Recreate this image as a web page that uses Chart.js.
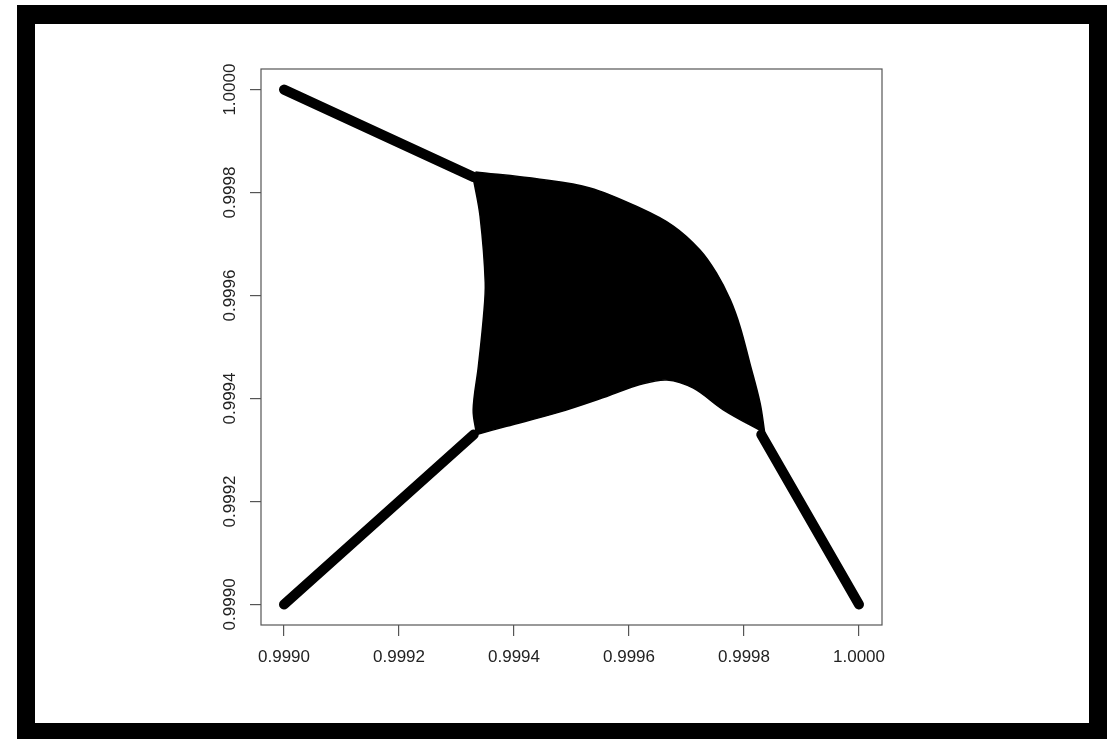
<!DOCTYPE html>
<html>
<head>
<meta charset="utf-8">
<script src="https://cdn.jsdelivr.net/npm/chart.js@4/dist/chart.umd.min.js"></script>
<style>
  html, body { margin: 0; padding: 0; background: #ffffff; width: 1110px; height: 739px; overflow: hidden; }
  #frame {
    position: absolute; left: 17px; top: 5px; width: 1090px; height: 734px;
    box-sizing: border-box; background: #ffffff;
    border-style: solid; border-color: #000000;
    border-width: 19px 18px 16px 18px;
  }
  #wrap { position: absolute; left: 0; top: 0; width: 1110px; height: 739px; }
</style>
</head>
<body>
<div id="frame"></div>
<div id="wrap"><canvas id="c" width="1110" height="739"></canvas></div>
<script>
// ---- data ----
const upperBranchX = [0.99900, 0.99933];
const upperBranchY = [1.00000, 0.99983];
const lowerBranchX = [0.99900, 0.99933];
const lowerBranchY = [0.99900, 0.99933];
const rightBranchX = [0.99983, 1.00000];
const rightBranchY = [0.99933, 0.99900];

// outline of the dense (chaotic) black region, clockwise from the upper-left corner
// (corner points are repeated so they stay sharp when the outline is smoothed)
const regionX = [0.999333, 0.999333, 0.999445, 0.999532, 0.999619, 0.999677, 0.999723, 0.999752, 0.999776,
                 0.999793, 0.999810, 0.999828, 0.999836, 0.999836,
                 0.999764, 0.999712, 0.999666, 0.999619, 0.999561, 0.999474, 0.999387, 0.999335, 0.999335,
                 0.999329, 0.999338, 0.999347, 0.999350, 0.999341, 0.999329];
const regionY = [0.999840, 0.999840, 0.999826, 0.999809, 0.999770, 0.999735, 0.999689, 0.999644, 0.999592,
                 0.999540, 0.999469, 0.999391, 0.999333, 0.999333,
                 0.999378, 0.999420, 0.999436, 0.999427, 0.999404, 0.999372, 0.999346, 0.999330, 0.999330,
                 0.999378, 0.999462, 0.999560, 0.999625, 0.999754, 0.999829];

const xTickValues = [0.9990, 0.9992, 0.9994, 0.9996, 0.9998, 1.0000];
const xTickLabels = ['0.9990', '0.9992', '0.9994', '0.9996', '0.9998', '1.0000'];
const yTickValues = [0.9990, 0.9992, 0.9994, 0.9996, 0.9998, 1.0000];
const yTickLabels = ['0.9990', '0.9992', '0.9994', '0.9996', '0.9998', '1.0000'];
const axisMin = 0.99896;
const axisMax = 1.00004;

const toPts = (xs, ys) => xs.map((x, i) => ({ x: x, y: ys[i] }));

const lineStyle = {
  showLine: true, pointRadius: 0, pointHoverRadius: 0,
  borderColor: '#000000', borderWidth: 10,
  borderCapStyle: 'round', borderJoinStyle: 'round',
  fill: false, tension: 0, clip: false
};

const boxPlugin = {
  id: 'box',
  afterDraw(chart) {
    const a = chart.chartArea, ctx = chart.ctx;
    ctx.save();
    ctx.strokeStyle = '#555555';
    ctx.lineWidth = 1.2;
    ctx.strokeRect(a.left, a.top, a.right - a.left, a.bottom - a.top);
    ctx.restore();
  }
};

const tickFont = { family: '"Liberation Sans", Arial, sans-serif', size: 17 };

new Chart(document.getElementById('c'), {
  type: 'scatter',
  data: {
    datasets: [
      Object.assign({}, lineStyle, {
        data: toPts(regionX, regionY), borderWidth: 1.5, fill: 'shape',
        backgroundColor: '#000000', borderCapStyle: 'butt', tension: 0.35
      }),
      Object.assign({}, lineStyle, { data: toPts(upperBranchX, upperBranchY) }),
      Object.assign({}, lineStyle, { data: toPts(lowerBranchX, lowerBranchY) }),
      Object.assign({}, lineStyle, { data: toPts(rightBranchX, rightBranchY) })
    ]
  },
  options: {
    responsive: false, animation: false, devicePixelRatio: 1,
    layout: { padding: { left: 191, right: 228, top: 69, bottom: 54 } },
    plugins: { legend: { display: false }, tooltip: { enabled: false } },
    scales: {
      x: {
        type: 'linear', min: axisMin, max: axisMax,
        afterBuildTicks: (s) => { s.ticks = xTickValues.map(v => ({ value: v })); },
        afterFit: (s) => { s.height = 60; },
        grid: { drawOnChartArea: false, drawTicks: true, tickLength: 11, color: '#555555', lineWidth: 1.2 },
        border: { display: false },
        ticks: {
          color: '#222222', font: tickFont, padding: 11, autoSkip: false,
          maxRotation: 0, minRotation: 0,
          callback: (v, i) => xTickLabels[i]
        }
      },
      y: {
        type: 'linear', min: axisMin, max: axisMax,
        afterBuildTicks: (s) => { s.ticks = yTickValues.map(v => ({ value: v })); },
        afterFit: (s) => { s.width = 70; },
        grid: { drawOnChartArea: false, drawTicks: true, tickLength: 11, color: '#555555', lineWidth: 1.2 },
        border: { display: false },
        ticks: {
          color: '#222222', font: tickFont, padding: -6, autoSkip: false,
          minRotation: 90, maxRotation: 90, crossAlign: 'center',
          callback: (v, i) => yTickLabels[i]
        }
      }
    }
  },
  plugins: [boxPlugin]
});
</script>
</body>
</html>
